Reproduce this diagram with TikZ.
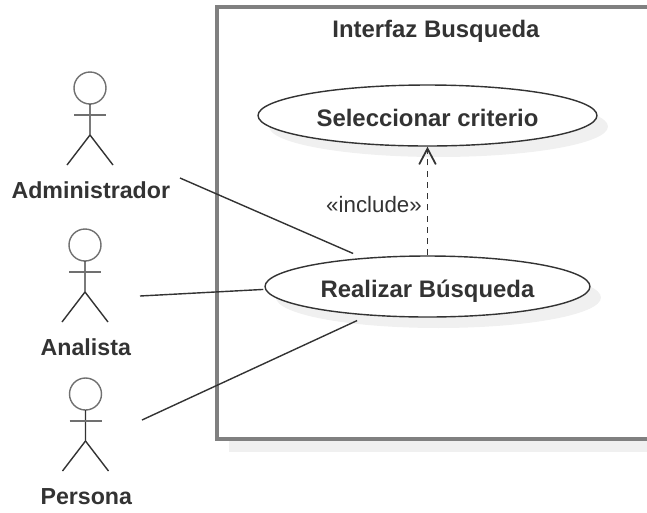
\documentclass[tikz,border=0pt]{standalone}
\usepackage{xcolor}
\usepackage{fontspec}
\setmainfont{Liberation Sans}
\usetikzlibrary{shapes.geometric,shadows,arrows.meta}
\definecolor{boxgray}{HTML}{808080}
\definecolor{inkgray}{HTML}{333333}
\definecolor{shadowgray}{HTML}{F0F0F0}
\tikzset{
	usecase/.style={ellipse,draw=inkgray,line width=0.8pt,fill=white,inner sep=0pt,minimum height=1.22cm,text height=12pt,text depth=0pt,font=\fontsize{13.6}{15}\selectfont\bfseries,text=inkgray,drop shadow={shadow xshift=0.22cm,shadow yshift=-0.22cm,fill=shadowgray,opacity=1}},
	actorname/.style={anchor=base,font=\fontsize{13.2}{15}\selectfont\bfseries,text=inkgray},
	assoc/.style={draw=inkgray,line width=0.8pt}
}
\begin{document}
\begin{tikzpicture}[x=0.02cm,y=-0.02cm]
		\useasboundingbox (0,0) rectangle (647,512);
		\fill[shadowgray](229,439) rectangle (647,452);
		\draw[boxgray,line width=1.9pt](647,7)--(217,7)--(217,439)--(647,439);
		\node (titulo) at (436,37)[anchor=base,font=\fontsize{13.6}{15}\selectfont\bfseries,text=inkgray]{Interfaz Busqueda};
		\node (seleccionar) at (427.5,115.5)[usecase,minimum width=6.78cm]{Seleccionar criterio};
		\node (realizar) at (427.5,286.5)[usecase,minimum width=6.5cm]{Realizar Búsqueda};
		\foreach \xc/\yc/\nm/\lab in {90/88/admin/Administrador,85/245/analista/Analista,85.5/394/persona/Persona}{
			\draw[inkgray!70,line width=0.8pt] (\xc,\yc) circle[radius=16];
			\draw[inkgray,line width=0.8pt] (\xc,\yc+16)--(\xc,\yc+47)--(\xc-23,\yc+77);
			\draw[inkgray,line width=0.8pt] (\xc,\yc+47)--(\xc+23,\yc+77);
			\draw[inkgray!70,line width=0.8pt] (\xc-16,\yc+27)--(\xc+16,\yc+27);
			\node (\nm) at (\xc+0.8,\yc+110.5)[actorname]{\lab};
		}
		\coordinate (adminEnd) at (180,178);
		\coordinate (analistaEnd) at (140,296);
		\coordinate (personaEnd) at (142,420);
		\draw[assoc,shorten >=6.2pt](adminEnd)--(realizar.156);
		\draw[assoc,shorten >=1pt](analistaEnd)--(realizar.181.6);
		\draw[assoc,shorten >=6.8pt](personaEnd)--(realizar.206.3);
		\draw[assoc,line width=1pt,dash pattern=on 3.4pt off 3pt,-{Straight Barb[length=9pt,width=9.5pt]}](realizar.north)--(seleccionar.south);
		\node (incluye) at (374,212)[anchor=base,font=\fontsize{12.7}{15}\selectfont,text=inkgray]{«include»};
		\end{tikzpicture}
\end{document}
